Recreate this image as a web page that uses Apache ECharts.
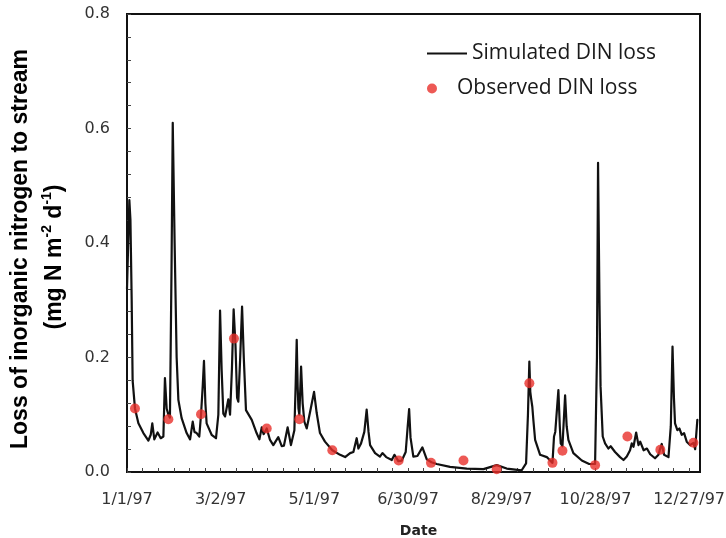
<!DOCTYPE html>
<html>
<head>
<meta charset="utf-8">
<script src="https://cdn.jsdelivr.net/npm/echarts@6/dist/echarts.min.js"></script>
<style>html,body{margin:0;padding:0;background:#fff}#c{width:726px;height:538px}</style>
</head>
<body>
<div id="c"></div>
<script>
// Days since 1/1/97 and simulated DIN loss (mg N m-2 d-1)
const simDays = [0,1.5,2.2,3.0,3.6,5.1,7.3,10.5,13.7,15.2,16.2,17.5,19.6,21.6,23.3,24.3,25.4,26.5,27.5,28.5,29.3,30.5,31.8,32.9,35,38.2,40.4,42.1,43.2,44.6,46.3,47.4,48.5,49.3,50.2,51,54.2,57,58.5,59.6,60.6,61.7,62.8,64.9,66,67.2,68.3,69.5,70.5,71.3,72.5,73.7,74.8,76.2,79.9,83,84.8,86.3,87.5,89.5,91.6,93.7,96.9,99.1,100.5,102.9,105,107.2,108,108.7,109.3,109.8,110.4,111.5,112.5,113.6,115.1,117.7,119.8,121.5,123.6,126.8,131.5,136.5,139.7,142.9,145,147.1,148.2,149.9,152,153.5,154.7,155.7,158.9,162,163.6,166,169.6,171.3,173.8,176,178.5,179.8,180.7,181.6,183.4,186,189.2,192,195,198.4,206.9,217.6,228.3,236.8,243.2,252.8,255.6,256.8,257.7,258.3,258.8,259.6,260.3,261.4,264.6,268.9,271,272.5,273.5,274.3,276.3,277.2,277.8,278.9,280.6,281.6,282.7,285.9,291.3,296,299.8,301,301.7,302.6,303.3,304.7,306.2,308.3,309.8,312.6,315.8,318,320.1,322.2,323.3,324.4,326.1,327.6,328.7,330.9,333,335.1,338.2,340.4,341.4,342.5,344,346.8,348.3,349.4,350.3,351,352.5,353.8,355.3,356.8,358.5,360.6,362.8,363.9,364.9,365.3];
const simValues = [0.32,0.475,0.44,0.30,0.16,0.111,0.085,0.068,0.055,0.065,0.085,0.057,0.069,0.059,0.062,0.164,0.111,0.100,0.095,0.35,0.610,0.40,0.20,0.126,0.094,0.068,0.057,0.088,0.070,0.068,0.062,0.100,0.15,0.194,0.12,0.085,0.065,0.059,0.10,0.282,0.18,0.102,0.097,0.127,0.100,0.18,0.284,0.22,0.13,0.123,0.20,0.289,0.20,0.108,0.091,0.068,0.057,0.078,0.066,0.076,0.056,0.047,0.061,0.045,0.046,0.078,0.047,0.073,0.15,0.231,0.15,0.111,0.100,0.184,0.12,0.088,0.076,0.111,0.140,0.103,0.068,0.053,0.038,0.030,0.026,0.033,0.035,0.059,0.041,0.050,0.070,0.109,0.070,0.047,0.033,0.027,0.033,0.026,0.021,0.030,0.019,0.020,0.035,0.080,0.110,0.060,0.027,0.028,0.043,0.022,0.017,0.014,0.009,0.006,0.005,0.012,0.006,0.003,0.015,0.100,0.193,0.140,0.129,0.114,0.090,0.056,0.030,0.026,0.020,0.016,0.062,0.070,0.143,0.080,0.050,0.045,0.134,0.080,0.056,0.033,0.020,0.014,0.014,0.20,0.540,0.30,0.15,0.062,0.050,0.041,0.045,0.035,0.026,0.021,0.027,0.038,0.050,0.044,0.069,0.047,0.053,0.038,0.041,0.031,0.024,0.030,0.040,0.049,0.030,0.026,0.080,0.219,0.13,0.085,0.073,0.076,0.065,0.068,0.053,0.047,0.051,0.040,0.041,0.091];

// Observed DIN loss
const obsDays = [5.1,26.5,47.4,68.5,89.5,110.4,131.5,174,194.7,215.5,236.8,257.7,272.5,278.9,299.8,320.5,341.6,362.8];
const obsValues = [0.111,0.092,0.101,0.233,0.076,0.092,0.038,0.020,0.016,0.020,0.005,0.155,0.016,0.037,0.012,0.062,0.039,0.051];

const xTickLabels = ['1/1/97','3/2/97','5/1/97','6/30/97','8/29/97','10/28/97','12/27/97'];
const yTickLabels = ['0.0','0.2','0.4','0.6','0.8'];

const simData = simDays.map((d, i) => [d, simValues[i]]);
const obsData = obsDays.map((d, i) => [d, obsValues[i]]);

const chart = echarts.init(document.getElementById('c'), null, {renderer: 'canvas'});
const legendText = {fontSize: 21, fontFamily: '"Open Sans"', color: '#1a1a1a'};
chart.setOption({
  animation: false,
  backgroundColor: '#fff',
  grid: {left: 127, right: 26, top: 14, bottom: 66, outerBoundsMode: 'none', containLabel: false,
         show: true, borderColor: '#111', borderWidth: 2, backgroundColor: 'transparent'},
  legend: [
    {data: ['Simulated DIN loss'], left: 422, top: 38, icon: 'rect', itemWidth: 40, itemHeight: 2, textStyle: legendText, selectedMode: false},
    {data: ['Observed DIN loss'], left: 422, top: 73, icon: 'circle', itemWidth: 40, itemHeight: 10, textStyle: legendText, selectedMode: false}
  ],
  xAxis: {
    type: 'value', min: 0, max: 367, interval: 10,
    name: 'Date', nameLocation: 'middle', nameGap: 52,
    nameTextStyle: {fontFamily: '"DejaVu Sans"', fontWeight: 'bold', fontSize: 14, color: '#222', padding: [0, 0, 0, 10]},
    axisLine: {lineStyle: {color: '#111', width: 2}},
    axisTick: {inside: true, length: 4, lineStyle: {color: '#444', width: 1}},
    axisLabel: {
      margin: 20, fontFamily: '"DejaVu Sans"', fontSize: 16, color: '#333',
      showMaxLabel: false,
      formatter: v => (Math.abs(v % 60) < 1e-6 ? xTickLabels[Math.round(v / 60)] : '')
    },
    splitLine: {show: false}
  },
  yAxis: {
    type: 'value', min: 0, max: 0.8, interval: 0.04,
    axisLine: {show: true, lineStyle: {color: '#111', width: 2}},
    axisTick: {show: true, inside: true, length: 4, lineStyle: {color: '#444', width: 1}},
    axisLabel: {
      margin: 17, fontFamily: '"DejaVu Sans"', fontSize: 16, color: '#333',
      formatter: v => {
        const k = Math.round(v / 0.2);
        return Math.abs(v - k * 0.2) < 1e-6 ? yTickLabels[k] : '';
      }
    },
    splitLine: {show: false}
  },
  graphic: [
    {type: 'text', x: 21, y: 249, rotation: Math.PI / 2,
     style: {text: 'Loss of inorganic nitrogen to stream', fontFamily: '"Liberation Sans"', fontWeight: 'bold', fontSize: 23, fill: '#000', align: 'center', verticalAlign: 'middle'}},
    {type: 'text', x: 53, y: 257, rotation: Math.PI / 2,
     style: {
       text: '{a|(mg N m}{s|-2}{a| d}{s|-1}{a|)}',
       align: 'center', verticalAlign: 'middle',
       rich: {
         a: {fontFamily: '"Liberation Sans"', fontWeight: 'bold', fontSize: 23, fill: '#000', lineHeight: 26, verticalAlign: 'bottom'},
         s: {fontFamily: '"Liberation Sans"', fontWeight: 'bold', fontSize: 14, fill: '#000', lineHeight: 26, verticalAlign: 'top'}
       }
     }}
  ],
  series: [
    {name: 'Simulated DIN loss', type: 'line', data: simData, showSymbol: false, symbol: 'none',
     color: '#111', lineStyle: {color: '#111', width: 2.2, join: 'round', cap: 'round'}, z: 2},
    {name: 'Observed DIN loss', type: 'scatter', data: obsData, symbol: 'circle', symbolSize: 10,
     color: '#e8302a', itemStyle: {color: '#e8302a'}, z: 3}
  ]
});
</script>
</body>
</html>
